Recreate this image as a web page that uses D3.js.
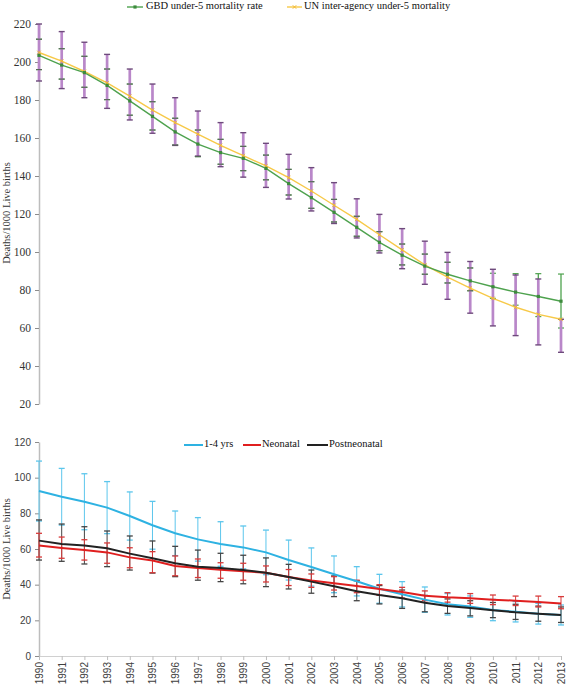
<!DOCTYPE html>
<html><head><meta charset="utf-8">
<script src="https://cdn.jsdelivr.net/npm/d3@7"></script>
<style>
body{margin:0;background:#fff;}
svg{display:block;}
</style></head>
<body><svg id="c" width="567" height="684"></svg>
<script>
const years = d3.range(1990, 2014);
const yearLabels = years.map(String);

// Top panel: under-5 mortality
const gbdRate  = [203.5,198.4,194.4,187.7,179.5,171.4,163.2,156.8,152.3,149.3,144.0,136.0,128.6,120.9,113.0,105.1,98.3,92.6,88.3,84.8,81.7,78.9,76.6,74.1];
const gbdUpper = [212,207,203,196.3,188.4,179.1,170.4,164.2,159.3,155.6,151,143.5,137,127.7,118.8,110.7,104.2,98.9,94.6,91.6,88.8,88.6,88.6,88.4];
const gbdLower = [196,191,186.7,180.2,172,164.2,156.3,150.2,146.2,142.8,138,130,123,115.8,108.3,100.7,93.2,88.3,83.7,79.6,75.6,72,66,60];
const unRate   = [205,200.5,195,189,182,174.7,168.1,162,156.1,150.7,145.3,139.1,132.1,124.6,117.2,109.1,101.1,93.2,86.8,81,75.6,70.9,67.2,64.6];
const unUpper  = [220,216,210.4,204,196.3,188.4,181.2,174.2,168.1,162.8,157.2,151.4,144.4,136.5,128,119.8,112.3,105.7,99.8,95,90.9,87.9,85.8,64.6];
const unLower  = [190,186,181.2,175.6,169.5,162.5,156.1,150.5,144.9,139.4,134,127.9,121.6,115,107.4,99.5,91.2,83,75.1,67.8,61.1,56,51.1,47.2];
const topTicks = [20,40,60,80,100,120,140,160,180,200,220];

// Bottom panel: age groups
const oneToFour      = [92.5,89.3,86.5,83.2,78.5,73.3,68.8,65.4,62.8,60.9,58.1,53.8,49.9,45.8,41.9,37.7,34.6,31.6,29.0,27.7,25.8,24.8,23.7,23.0];
const oneToFourUpper = [109.3,105.2,102.2,97.8,92,86.7,81.3,77.6,75.3,72.9,70.6,65,60.6,56.1,50.1,45.8,41.7,38.7,35,33.7,31.8,30.5,29.5,28.6];
const oneToFourLower = [75.7,73.4,70.8,68.6,65,59.9,56.3,53.2,50.3,48.9,45.6,42.6,39.2,35.5,33.7,29.6,27.5,24.5,23,21.7,19.8,19.1,17.9,17.4];
const neonatal      = [61.9,60.6,59.4,58.1,55.3,53.5,50.5,49.3,48.4,47.5,46.7,44.3,42.4,40.8,39.3,37.6,35.9,33.8,32.9,32.4,31.6,31.0,30.3,29.5];
const neonatalUpper = [68.8,66.7,65.2,63.4,60.7,58.5,56.1,54.4,52.3,52,50.5,48.5,46,44.5,42.5,40,38.5,36.5,35.5,35,34.2,33.6,33.6,33.3];
const neonatalLower = [55.5,54.8,53.8,52,49.5,46.7,45,44,43.6,42.5,41.5,39.5,38.5,37,35.5,34,32.5,31,30.2,29.5,28.8,28.3,27.5,26.5];
const postneo      = [64.7,62.8,61.9,60.4,57.4,54.8,52.0,50.1,49.3,48.2,46.7,44.3,41.7,39.1,36.3,34.2,32.4,29.9,28.0,26.9,25.6,24.5,23.7,23.0];
const postneoUpper = [76.3,74,72.5,70.1,67.3,64.5,61.5,59.4,57.6,56.5,55,51.4,48.2,44.9,42.2,39.5,37,34,32,31,30,29,28,27.5];
const postneoLower = [53.8,53.1,51.6,50.1,48.2,46.5,44.5,42.5,41.7,40.5,38.9,37.6,35.2,33.3,31,29.2,26.7,24.8,23.9,22.5,21.5,20.5,19.5,18.8];
const bottomTicks = [0,20,40,60,80,100,120];

const svg = d3.select("#c");
const serif = "'Liberation Serif','Times New Roman',serif";
const sans = "'Liberation Sans',Arial,sans-serif";

const x = d3.scaleLinear().domain([1990, 2013]).range([39, 561]);
const yT = d3.scaleLinear().domain([20, 220]).range([404, 24]);
const yB = d3.scaleLinear().domain([0, 120]).range([656, 442]);

function styleAxis(g, font, size, color) {
  g.select(".domain").attr("stroke", "#bdbdbd").attr("stroke-width", 1.5);
  g.selectAll(".tick line").attr("stroke", "#8c8c8c");
  g.selectAll(".tick text").attr("font-family", font).attr("font-size", size).attr("fill", color);
}

// ---------- TOP ----------
const gTopAxis = svg.append("g").attr("transform", "translate(39,0)")
  .call(d3.axisLeft(yT).tickValues(topTicks).tickSize(4).tickSizeOuter(0).tickPadding(4));
styleAxis(gTopAxis, serif, "11.5px", "#333");

svg.append("text").attr("transform", "translate(8,213) rotate(-90)")
  .attr("text-anchor", "middle").attr("dominant-baseline", "middle")
  .attr("font-family", serif).attr("font-size", "10.5px").attr("fill", "#333")
  .text("Deaths/1000  Live births");

const capW = 3;
function errBars(g, xs, lo, hi, ys, color, width) {
  const d = xs.map((v, i) => ({x: v, lo: lo[i], hi: hi[i]}));
  g.selectAll(null).data(d).enter().append("line")
    .attr("x1", e => x(e.x)).attr("x2", e => x(e.x))
    .attr("y1", e => ys(e.lo)).attr("y2", e => ys(e.hi))
    .attr("stroke", color).attr("stroke-width", width);
}
function caps(g, xs, lo, hi, ys, color, width) {
  const d = [];
  xs.forEach((v, i) => { d.push({x: v, y: lo[i]}); d.push({x: v, y: hi[i]}); });
  g.selectAll(null).data(d).enter().append("line")
    .attr("x1", e => x(e.x) - capW).attr("x2", e => x(e.x) + capW)
    .attr("y1", e => ys(e.y)).attr("y2", e => ys(e.y))
    .attr("stroke", color).attr("stroke-width", width);
}

const gTop = svg.append("g");
errBars(gTop, years, gbdLower, gbdUpper, yT, "#4ea24e", 1.3);
caps(gTop, years, gbdLower, gbdUpper, yT, "#4ea24e", 1.2);
errBars(gTop, years, unLower, unUpper, yT, "#b987c9", 2.7);
caps(gTop, years, unLower, unUpper, yT, "#6e4a7c", 1.4);
caps(gTop, years.slice(0, 20), gbdLower.slice(0, 20), gbdUpper.slice(0, 20), yT, "#556655", 1.1);

const lineT = (arr) => d3.line().x((d, i) => x(years[i])).y(d => yT(d))(arr);
gTop.append("path").attr("d", lineT(unRate)).attr("fill", "none").attr("stroke", "#f7c948").attr("stroke-width", 1.4);
gTop.append("path").attr("d", lineT(gbdRate)).attr("fill", "none").attr("stroke", "#4ea24e").attr("stroke-width", 1.4);

gTop.selectAll(null).data(unRate).enter().append("path")
  .attr("transform", (d, i) => `translate(${x(years[i])},${yT(d)})`)
  .attr("d", d3.symbol(d3.symbolTimes, 10)()).attr("fill", "none").attr("stroke", "#f0b429").attr("stroke-width", 0.9);
gTop.selectAll(null).data(gbdRate).enter().append("rect")
  .attr("x", (d, i) => x(years[i]) - 1.6).attr("y", d => yT(d) - 1.6)
  .attr("width", 3.2).attr("height", 3.2).attr("fill", "#3d8b3d");

// top legend
const lgY = 7;
const lgT = svg.append("g");
lgT.append("line").attr("x1", 127).attr("x2", 143).attr("y1", lgY).attr("y2", lgY).attr("stroke", "#4ea24e").attr("stroke-width", 1.4);
lgT.append("rect").attr("x", 133.4).attr("y", lgY - 1.6).attr("width", 3.2).attr("height", 3.2).attr("fill", "#3d8b3d");
lgT.append("text").attr("x", 146).attr("y", lgY).attr("dominant-baseline", "middle")
  .attr("font-family", serif).attr("font-size", "10.5px").attr("fill", "#111").text("GBD under-5 mortality rate");
lgT.append("line").attr("x1", 287).attr("x2", 302).attr("y1", lgY).attr("y2", lgY).attr("stroke", "#f7c948").attr("stroke-width", 1.4);
lgT.append("path").attr("transform", `translate(294.5,${lgY})`).attr("d", d3.symbol(d3.symbolTimes, 10)())
  .attr("fill", "none").attr("stroke", "#f0b429").attr("stroke-width", 0.9);
lgT.append("text").attr("x", 304).attr("y", lgY).attr("dominant-baseline", "middle")
  .attr("font-family", serif).attr("font-size", "10.5px").attr("fill", "#111").text("UN inter-agency under-5 mortality");

// ---------- BOTTOM ----------
const gBotY = svg.append("g").attr("transform", "translate(39,0)")
  .call(d3.axisLeft(yB).tickValues(bottomTicks).tickSize(4).tickSizeOuter(0).tickPadding(4));
styleAxis(gBotY, sans, "10px", "#404040");

const gBotX = svg.append("g").attr("transform", "translate(0,656)")
  .call(d3.axisBottom(x).tickValues(years).tickFormat((d, i) => yearLabels[i]).tickSize(4).tickSizeOuter(0));
gBotX.select(".domain").attr("stroke", "#d0d0d0").attr("stroke-width", 1);
gBotX.selectAll(".tick line").attr("stroke", "#bdbdbd");
gBotX.selectAll(".tick text")
  .attr("font-family", sans).attr("font-size", "10px").attr("fill", "#404040")
  .attr("transform", "translate(0,6) rotate(-90)")
  .attr("x", 0).attr("y", 0).attr("dy", "0.35em")
  .attr("text-anchor", "end");

svg.append("text").attr("transform", "translate(8,549) rotate(-90)")
  .attr("text-anchor", "middle").attr("dominant-baseline", "middle")
  .attr("font-family", serif).attr("font-size", "10.5px").attr("fill", "#333")
  .text("Deaths/1000  Live births");

const gBot = svg.append("g");
const series = [
  {v: oneToFour, lo: oneToFourLower, hi: oneToFourUpper, c: "#2eb2e2", cap: "#5cc6ec"},
  {v: postneo, lo: postneoLower, hi: postneoUpper, c: "#222222", cap: "#444"},
  {v: neonatal, lo: neonatalLower, hi: neonatalUpper, c: "#e01f1f", cap: "#d83a3a"}
];
series.forEach(s => {
  errBars(gBot, years, s.lo, s.hi, yB, s.cap, 1);
  caps(gBot, years, s.lo, s.hi, yB, s.cap, 1.3);
});
const lineB = (arr) => d3.line().x((d, i) => x(years[i])).y(d => yB(d))(arr);
[series[0], series[2], series[1]].forEach(s => {
  gBot.append("path").attr("d", lineB(s.v)).attr("fill", "none").attr("stroke", s.c).attr("stroke-width", 2);
});

// bottom legend
const lgB = svg.append("g");
const legB = [
  {x1: 184, x2: 203, tx: 204, c: "#2eb2e2", t: "1-4 yrs"},
  {x1: 243, x2: 261, tx: 262, c: "#e01f1f", t: "Neonatal"},
  {x1: 307, x2: 328, tx: 329, c: "#222222", t: "Postneonatal"}
];
legB.forEach(l => {
  lgB.append("line").attr("x1", l.x1).attr("x2", l.x2).attr("y1", 445).attr("y2", 445).attr("stroke", l.c).attr("stroke-width", 2);
  lgB.append("text").attr("x", l.tx).attr("y", 445).attr("dominant-baseline", "middle")
    .attr("font-family", serif).attr("font-size", "10.5px").attr("fill", "#111").text(l.t);
});
</script>
</body></html>
